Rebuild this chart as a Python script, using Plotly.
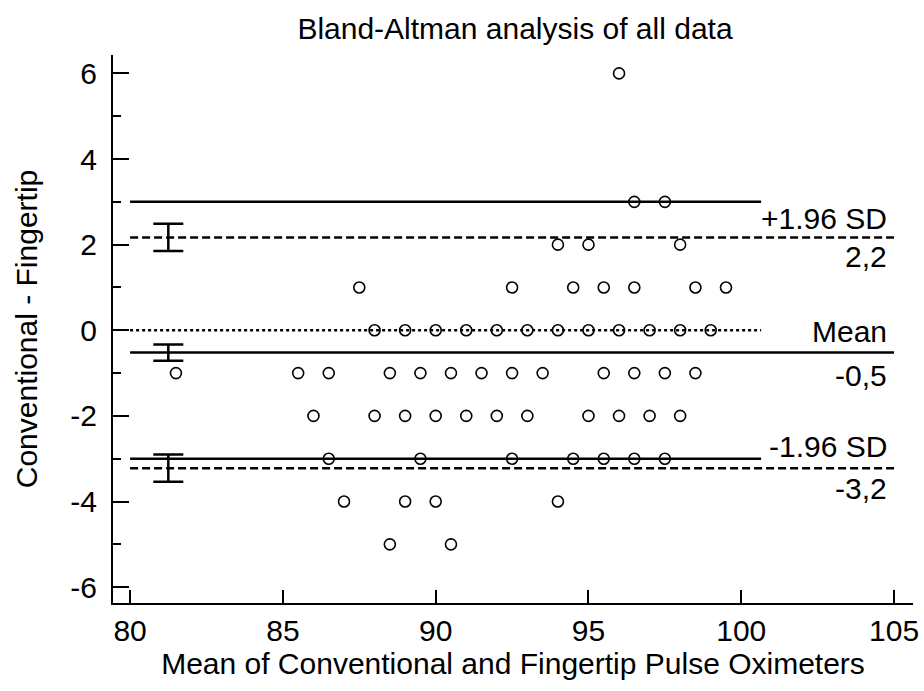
import plotly.graph_objects as go

# ---- data ----
diff_levels = [6, 3, 2, 1, 0, -1, -2, -3, -4, -5]
means_by_level = {
    6: [96.0],
    3: [96.5, 97.5],
    2: [94.0, 95.0, 98.0],
    1: [87.5, 92.5, 94.5, 95.5, 96.5, 98.5, 99.5],
    0: [88.0, 89.0, 90.0, 91.0, 92.0, 93.0, 94.0, 95.0, 96.0, 97.0, 98.0, 99.0],
    -1: [81.5, 85.5, 86.5, 88.5, 89.5, 90.5, 91.5, 92.5, 93.5, 95.5, 96.5, 97.5, 98.5],
    -2: [86.0, 88.0, 89.0, 90.0, 91.0, 92.0, 93.0, 95.0, 96.0, 97.0, 98.0],
    -3: [86.5, 89.5, 92.5, 94.5, 95.5, 96.5, 97.5],
    -4: [87.0, 89.0, 90.0, 94.0],
    -5: [88.5, 90.5],
}
mean_x = [m for lv in diff_levels for m in means_by_level[lv]]
diff_y = [lv for lv in diff_levels for m in means_by_level[lv]]

mean_diff = -0.52
upper_loa = 2.17
lower_loa = -3.22
ci_x = 81.25
ci_centers = [upper_loa, mean_diff, lower_loa]
ci_half = [0.32, 0.19, 0.32]

short_line_x = [80, 100.65]
long_line_x = [80, 105]
zero_line_y = 0
ref_upper_y = 3
ref_lower_y = -3

label_texts = ["+1.96 SD", "2,2", "Mean", "-0,5", "-1.96 SD", "-3,2"]

x_ticks = [80, 85, 90, 95, 100, 105]
x_tick_labels = ["80", "85", "90", "95", "100", "105"]
y_ticks = [-6, -4, -2, 0, 2, 4, 6]
y_tick_labels = ["-6", "-4", "-2", "0", "2", "4", "6"]

FONT = "Liberation Sans, Arial, sans-serif"
BLACK = "#000000"
LW = 2.5
FS = 30

fig = go.Figure()

def hline(xs, y, dash):
    fig.add_trace(go.Scatter(x=xs, y=[y, y], mode="lines",
                             line=dict(color=BLACK, width=LW, dash=dash),
                             hoverinfo="skip", showlegend=False))

hline(short_line_x, ref_upper_y, "solid")
hline(short_line_x, ref_lower_y, "solid")
hline(short_line_x, zero_line_y, "3px,3px")
hline(long_line_x, upper_loa, "8px,4px")
hline(long_line_x, lower_loa, "8px,4px")
hline(long_line_x, mean_diff, "solid")

fig.add_trace(go.Scatter(
    x=[ci_x] * 3, y=ci_centers, mode="markers",
    marker=dict(size=1, opacity=0),
    error_y=dict(type="data", array=ci_half, visible=True, color=BLACK,
                 thickness=LW, width=15),
    hoverinfo="skip", showlegend=False))

fig.add_trace(go.Scatter(
    x=mean_x, y=diff_y, mode="markers",
    marker=dict(symbol="circle-open", size=11, color=BLACK,
                line=dict(width=1.6, color=BLACK)),
    showlegend=False))

# labels to the right
lab_x = 104.85
ann_specs = [
    (label_texts[0], upper_loa, "bottom", 0),
    (label_texts[1], upper_loa, "top", -1),
    (label_texts[2], mean_diff, "bottom", 3),
    (label_texts[3], mean_diff, "top", -4),
    (label_texts[4], lower_loa, "bottom", 3),
    (label_texts[5], lower_loa, "top", -2),
]
for txt, yv, anchor, shift in ann_specs:
    fig.add_annotation(x=lab_x, y=yv, text=txt, showarrow=False,
                       xanchor="right", yanchor=anchor, yshift=shift,
                       font=dict(family=FONT, size=FS, color=BLACK))

W, H = 924, 691
fig.update_layout(
    width=W, height=H,
    margin=dict(l=113, r=11, t=55, b=88, autoexpand=False),
    paper_bgcolor="white", plot_bgcolor="white",
    font=dict(family=FONT, size=FS, color=BLACK),
    title=dict(text="Bland-Altman analysis of all data", x=515 / W,
               xanchor="center", y=1 - 28 / H, yanchor="middle",
               font=dict(family=FONT, size=FS, color=BLACK)),
    xaxis=dict(range=[79.44, 105.62], tickvals=x_ticks, ticktext=x_tick_labels,
               ticks="inside", ticklen=13, tickwidth=2, tickcolor=BLACK,
               showline=True, linecolor=BLACK, linewidth=2,
               showgrid=False, zeroline=False, ticklabelstandoff=0,
               ticklabeloverflow="allow",
               title=dict(text="Mean of Conventional and Fingertip Pulse Oximeters",
                          standoff=6, font=dict(family=FONT, size=FS))),
    yaxis=dict(range=[-6.37, 6.43], tickvals=y_ticks, ticktext=y_tick_labels,
               ticks="inside", ticklen=16, tickwidth=2, tickcolor=BLACK,
               minor=dict(ticks="inside", ticklen=8, tickwidth=2,
                          tickcolor=BLACK, dtick=1, tick0=1),
               showline=True, linecolor=BLACK, linewidth=2,
               showgrid=False, zeroline=False, ticklabelstandoff=8,
               title=dict(text="Conventional - Fingertip", standoff=24,
                          font=dict(family=FONT, size=FS))),
)

# remove the browser's default 8px body margin so the figure fills the window
fig.write_html("out.html",
               config={"displayModeBar": False},
               post_script="document.body.style.margin='0px';document.body.style.overflow='hidden';")
